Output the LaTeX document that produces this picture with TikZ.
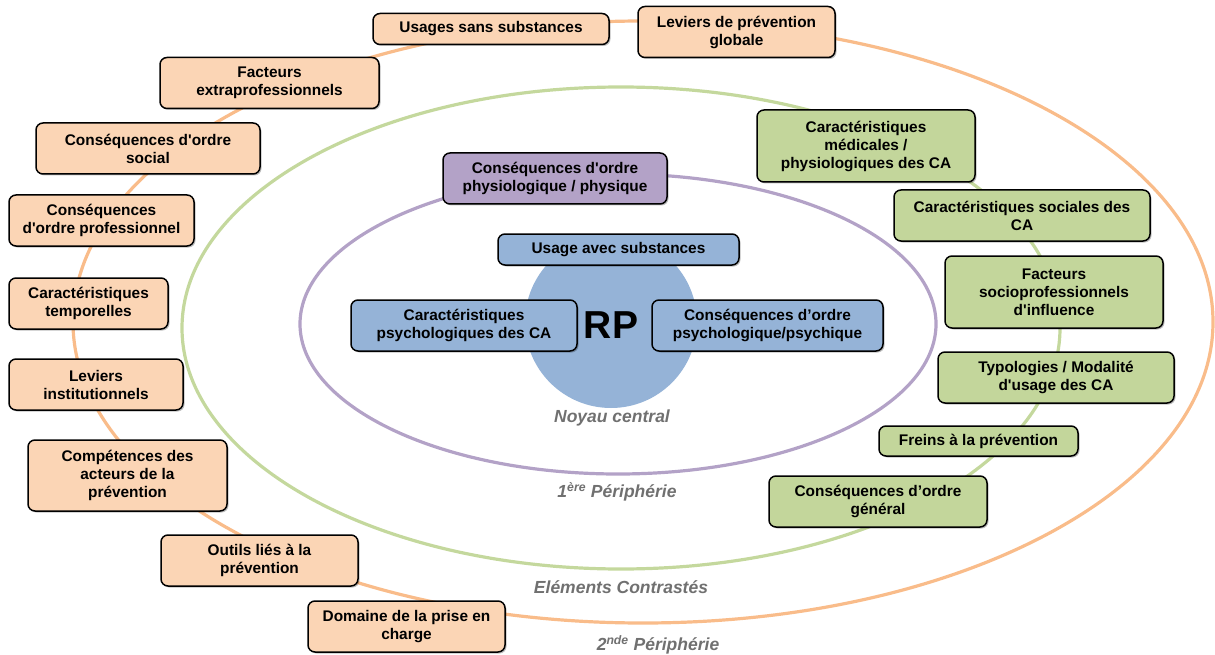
\documentclass[tikz,border=0pt]{standalone}
\usepackage{fontspec}
\setmainfont{Liberation Sans}[Ligatures=TeXOff]
\usetikzlibrary{shadows}
\definecolor{orFill}{HTML}{FBD5B5}
\definecolor{orLine}{HTML}{F9BC8A}
\definecolor{grFill}{HTML}{C3D69B}
\definecolor{grLine}{HTML}{C4D89D}
\definecolor{puFill}{HTML}{B3A2C7}
\definecolor{puLine}{HTML}{B3A2C7}
\definecolor{blFill}{HTML}{95B3D7}
\definecolor{labGray}{HTML}{707070}
\begin{document}
\begin{tikzpicture}[x=1pt,y=-1pt,
  box/.style={draw=black, line width=1.5pt, rounded corners=7pt, align=center,
    font=\bfseries\fontsize{15.4}{18}\selectfont, inner sep=0pt,
    drop shadow={shadow xshift=1.5pt, shadow yshift=-1.5pt, opacity=0.25, fill=black}},
  sz/.style 2 args={minimum width=#1, minimum height=#2},
  ob/.style={box, fill=orFill},
  gb/.style={box, fill=grFill},
  pb/.style={box, fill=puFill},
  bb/.style={box, fill=blFill},
  ring/.style={line width=3.2pt},
  lab/.style={text=labGray, font=\bfseries\itshape\fontsize{17.5}{20}\selectfont, inner sep=0pt}
]
\useasboundingbox (0,0) rectangle (1215,655);
% rings
\draw[ring, orLine] (643,322) ellipse [x radius=570pt, y radius=301pt];
\draw[ring, grLine] (621,328) ellipse [x radius=439pt, y radius=241pt];
\draw[ring, puLine] (618,324) ellipse [x radius=318pt, y radius=150pt];
\fill[blFill] (611,322) circle [radius=86pt];
\node[font=\bfseries\fontsize{39}{40}\selectfont, inner sep=0pt] (rp) at (611,325) {RP};

% labels
\node[lab] (l0) at (612,418) {Noyau central};
\node[lab] (l1) at (617,492) {1\textsuperscript{ère} Périphérie};
\node[lab] (l2) at (621,587) {Eléments Contrastés};
\node[lab] (l3) at (658,645) {2\textsuperscript{nde} Périphérie};

% orange boxes
\node[ob, sz={236pt}{31pt}] (o1) at (491,29) {Usages sans substances};
\node[ob, sz={197pt}{51pt}] (o2) at (736.5,32) {Leviers de prévention\\globale};
\node[ob, sz={219pt}{51pt}] (o3) at (269.5,83) {Facteurs\\extraprofessionnels};
\node[ob, sz={224pt}{51pt}] (o4) at (148,148.5) {Conséquences d'ordre\\social};
\node[ob, sz={185pt}{51pt}] (o5) at (101.5,220.5) {Conséquences\\d'ordre professionnel};
\node[ob, sz={159pt}{51pt}] (o6) at (88.5,303.5) {Caractéristiques\\temporelles};
\node[ob, sz={174pt}{51pt}] (o7) at (96,384.5) {Leviers\\institutionnels};
\node[ob, sz={199pt}{71pt}] (o8) at (127.5,475.5) {Compétences des\\acteurs de la\\prévention};
\node[ob, sz={197pt}{51pt}] (o9) at (259.5,560.5) {Outils liés à la\\prévention};
\node[ob, sz={197pt}{51pt}] (o10) at (406.5,626.5) {Domaine de la prise en\\charge};

% green boxes
\node[gb, sz={218pt}{72pt}] (g1) at (866,146) {Caractéristiques\\médicales /\\physiologiques des CA};
\node[gb, sz={256pt}{51pt}] (g2) at (1022,215.5) {Caractéristiques sociales des\\CA};
\node[gb, sz={218pt}{72pt}] (g3) at (1054,292) {Facteurs\\socioprofessionnels\\d'influence};
\node[gb, sz={236pt}{51pt}] (g4) at (1056,377.5) {Typologies / Modalité\\d'usage des CA};
\node[gb, sz={199pt}{30pt}] (g5) at (978.5,441) {Freins à la prévention};
\node[gb, sz={218pt}{51pt}] (g6) at (878,501.5) {Conséquences d’ordre\\général};

% purple box
\node[pb, sz={224pt}{51pt}] (p1) at (555,178.5) {Conséquences d'ordre\\physiologique / physique};

% blue boxes
\node[bb, sz={241pt}{31pt}] (b1) at (618.5,249.5) {Usage avec substances};
\node[bb, sz={226pt}{51pt}] (b2) at (464,325.5) {Caractéristiques\\psychologiques des CA};
\node[bb, sz={231pt}{51pt}] (b3) at (767.5,325.5) {Conséquences d’ordre\\psychologique/psychique};
\end{tikzpicture}
\end{document}
